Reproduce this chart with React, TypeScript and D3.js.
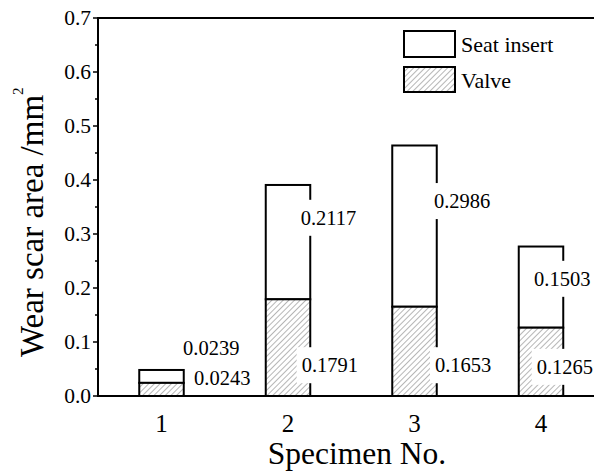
import React from "react";
import * as d3 from "d3";

const specimens = [1, 2, 3, 4];
const valve = [0.0243, 0.1791, 0.1653, 0.1265];
const seatInsert = [0.0239, 0.2117, 0.2986, 0.1503];
const seatLabelX = [1.17, 2.1, 3.154, 3.945];
const seatLabelY = [0.089, 0.33, 0.361, 0.217];
const valveLabelX = [1.257, 2.108, 3.162, 3.966];
const valveLabelY = [0.034, 0.057, 0.057, 0.054];
const yTicks = [0, 0.1, 0.2, 0.3, 0.4, 0.5, 0.6, 0.7];
const yMinorTicks = [0.05, 0.15, 0.25, 0.35, 0.45, 0.55, 0.65];

const W = 594;
const H = 472;
const FONT = "Liberation Serif";

export default function App() {
  const x = d3.scaleLinear().domain([0.5, 4.5]).range([98.25, 604.25]);
  const y = d3.scaleLinear().domain([0, 0.7]).range([396, 18]);
  const barW = 44.5;
  const labelFs = 20.5;
  const labelW = 58;

  const labels = [
    ...seatInsert.map((v, i) => ({ v, lx: seatLabelX[i], ly: seatLabelY[i] })),
    ...valve.map((v, i) => ({ v, lx: valveLabelX[i], ly: valveLabelY[i] })),
  ];

  return (
    <svg width={W} height={H} style={{ position: "absolute", left: 0, top: 0, background: "#fff" }}>
      <defs>
        <pattern id="hatch" patternUnits="userSpaceOnUse" width={4} height={4} patternTransform="rotate(45)">
          <rect width={4} height={4} fill="#fff" />
          <line x1={0} y1={0} x2={0} y2={4} stroke="#7a7a7a" strokeWidth={1.1} />
        </pattern>
      </defs>
      <rect width={W} height={H} fill="#fff" />

      {specimens.map((s, i) => {
        const cx = x(s);
        const x0 = cx - barW / 2;
        const vTop = y(valve[i]);
        const tTop = y(valve[i] + seatInsert[i]);
        return (
          <g key={s}>
            <rect x={x0} y={tTop} width={barW} height={vTop - tTop} fill="#fff" stroke="#000" strokeWidth={2} />
            <rect x={x0} y={vTop} width={barW} height={y(0) - vTop} fill="url(#hatch)" stroke="#000" strokeWidth={2} />
          </g>
        );
      })}

      {labels.map((d, i) => {
        const lx = x(d.lx);
        const ly = y(d.ly);
        return (
          <g key={i}>
            <rect x={lx - 5} y={ly - 18} width={labelW + 9} height={36} fill="#fff" />
            <text x={lx} y={ly} dy="0.35em" fontSize={labelFs} fill="#000" fontFamily={FONT}>
              {d.v.toFixed(4)}
            </text>
          </g>
        );
      })}

      <line x1={98} x2={W} y1={18} y2={18} stroke="#000" strokeWidth={2} />
      <line x1={98} x2={W} y1={396} y2={396} stroke="#000" strokeWidth={2} />
      <line x1={98} x2={98} y1={17} y2={397} stroke="#000" strokeWidth={2} />
      {yTicks.map((t) => (
        <g key={t}>
          <line x1={93} x2={98} y1={y(t)} y2={y(t)} stroke="#000" strokeWidth={1.5} />
          <text x={91} y={y(t)} dy="0.34em" textAnchor="end" fontSize={21.5} fill="#000" fontFamily={FONT}>
            {t.toFixed(1)}
          </text>
        </g>
      ))}
      {yMinorTicks.map((t) => (
        <line key={t} x1={95} x2={98} y1={y(t)} y2={y(t)} stroke="#000" strokeWidth={1.5} />
      ))}
      {specimens.map((s) => (
        <text key={s} x={x(s)} y={432} textAnchor="middle" fontSize={25} fill="#000" fontFamily={FONT}>
          {s}
        </text>
      ))}

      <text x={357} y={464} textAnchor="middle" fontSize={31.5} fill="#000" fontFamily={FONT}>
        Specimen No.
      </text>
      <text transform="translate(43,357) rotate(-90)" fontSize={33} fill="#000" fontFamily={FONT}>
        Wear scar area /mm
        <tspan fontSize={15} dy={-20}>2</tspan>
      </text>

      <rect x={404} y={31} width={51} height={26} fill="#fff" stroke="#000" strokeWidth={2} />
      <text x={461} y={51.5} fontSize={22} fill="#000" fontFamily={FONT}>
        Seat insert
      </text>
      <rect x={404} y={67} width={51} height={25} fill="url(#hatch)" stroke="#000" strokeWidth={2} />
      <text x={461} y={87.5} fontSize={22} fill="#000" fontFamily={FONT}>
        Valve
      </text>
    </svg>
  );
}
